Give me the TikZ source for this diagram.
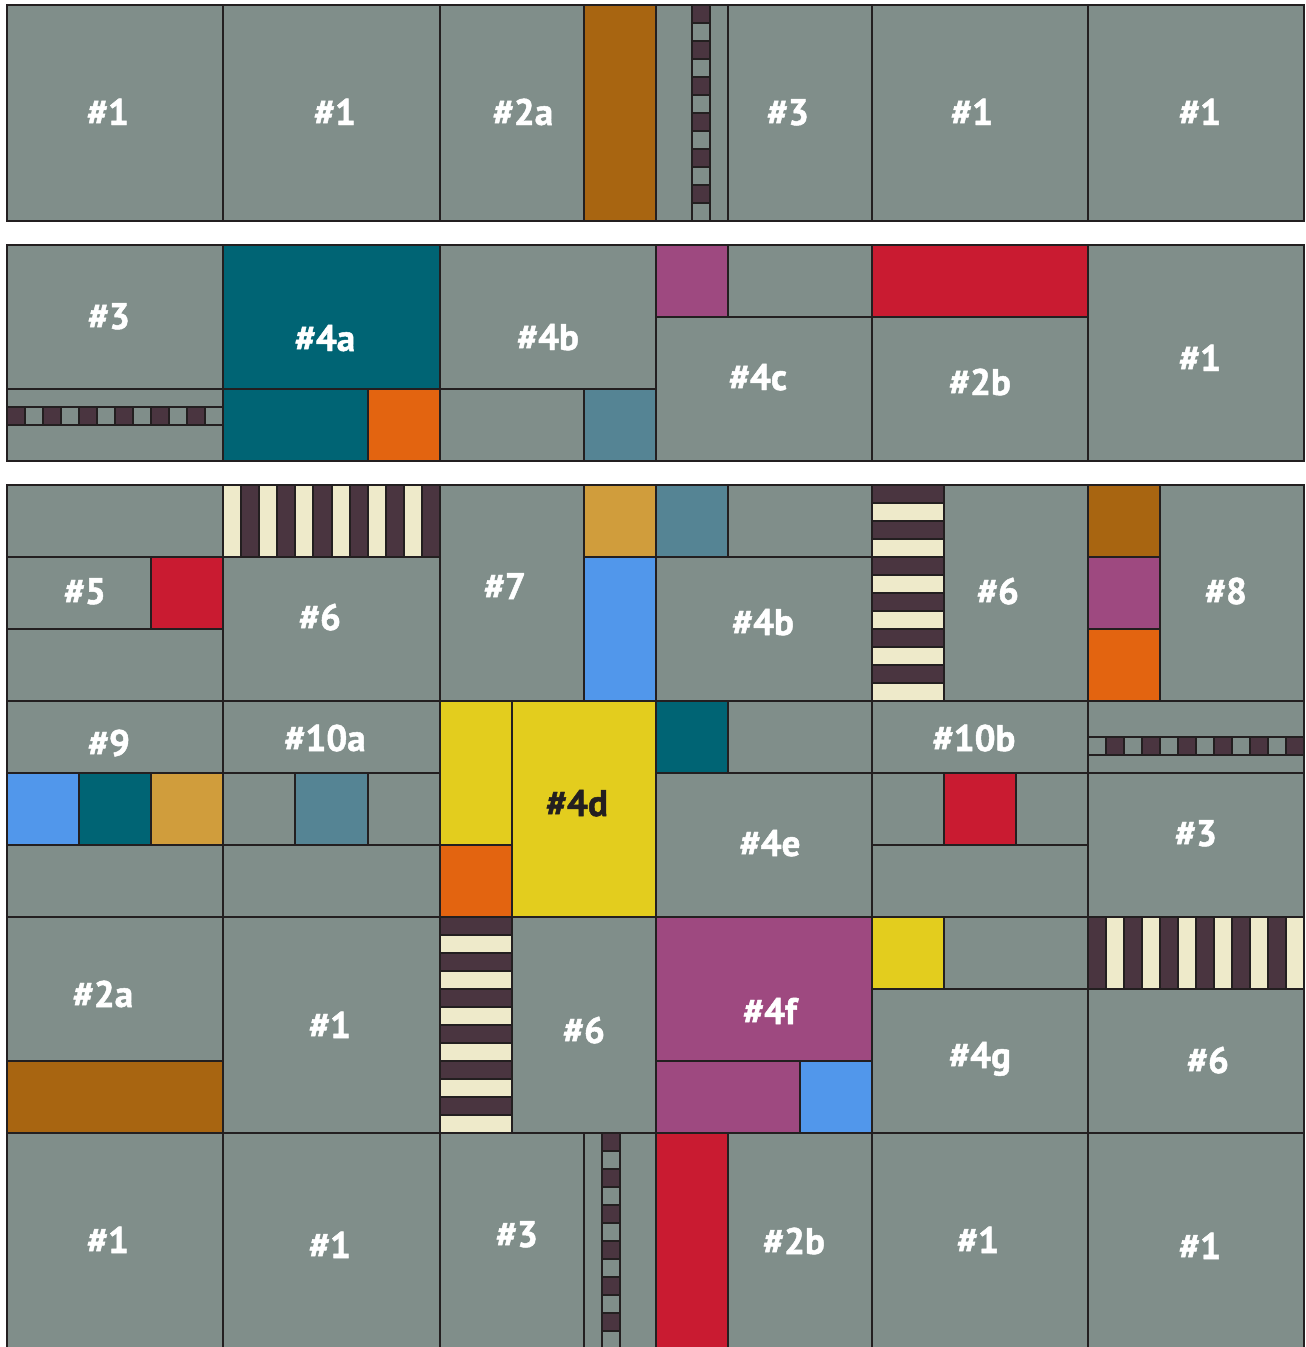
\documentclass[tikz,border=0pt]{standalone}
\usepackage{fontspec}
\setmainfont{PT Sans}
\newfontfamily\lblfont{PT Sans}[BoldFeatures={FakeBold=1.3}]
\definecolor{qgray}{RGB}{128,142,138}
\definecolor{qbrown}{RGB}{168,101,17}
\definecolor{qplum}{RGB}{74,53,64}
\definecolor{qcream}{RGB}{238,234,202}
\definecolor{qteal}{RGB}{0,100,116}
\definecolor{qorange}{RGB}{227,100,16}
\definecolor{qsteel}{RGB}{85,132,148}
\definecolor{qmag}{RGB}{158,73,128}
\definecolor{qred}{RGB}{201,27,49}
\definecolor{qochre}{RGB}{208,157,60}
\definecolor{qblue}{RGB}{81,151,235}
\definecolor{qyellow}{RGB}{227,205,30}
\definecolor{qink}{RGB}{35,31,32}
\tikzset{
  qline/.style={draw=qink, line width=2pt},
  lbl/.style={font=\lblfont\bfseries\fontsize{37}{37}\selectfont, text=white, inner sep=0pt, text height=26pt, text depth=0pt},
  lbldark/.style={lbl, text=qink}
}
\newcommand\R[5]{\filldraw[qline,fill=#5] (#1,#2) rectangle (#3,#4);}
% 12 cells along x
\newcommand\xchk[6]{%
  \foreach \i in {0,2,...,10}{\filldraw[qline,fill=#5] ({#1+(#2-#1)*\i/12},#3) rectangle ({#1+(#2-#1)*(\i+1)/12},#4);}%
  \foreach \i in {1,3,...,11}{\filldraw[qline,fill=#6] ({#1+(#2-#1)*\i/12},#3) rectangle ({#1+(#2-#1)*(\i+1)/12},#4);}}
% 12 cells along y
\newcommand\ychk[6]{%
  \foreach \i in {0,2,...,10}{\filldraw[qline,fill=#5] (#1,{#3+(#4-#3)*\i/12}) rectangle (#2,{#3+(#4-#3)*(\i+1)/12});}%
  \foreach \i in {1,3,...,11}{\filldraw[qline,fill=#6] (#1,{#3+(#4-#3)*\i/12}) rectangle (#2,{#3+(#4-#3)*(\i+1)/12});}}
\begin{document}
\begin{tikzpicture}[x=1pt,y=-1pt]
\useasboundingbox (0,0) rectangle (1306,1347);
\clip (0,0) rectangle (1306,1347);
% ---------- Row 1
\R{7}{5}{223}{221}{qgray}
\R{223}{5}{440}{221}{qgray}
\R{440}{5}{584}{221}{qgray}
\R{584}{5}{656}{221}{qbrown}
\R{656}{5}{692}{221}{qgray}
\ychk{692}{710}{5}{221}{qplum}{qgray}
\R{710}{5}{728}{221}{qgray}
\R{728}{5}{872}{221}{qgray}
\R{872}{5}{1088}{221}{qgray}
\R{1088}{5}{1304}{221}{qgray}
% ---------- Row 2
\R{7}{245}{223}{389}{qgray}
\R{7}{389}{223}{407}{qgray}
\xchk{7}{223}{407}{425}{qplum}{qgray}
\R{7}{425}{223}{461}{qgray}
\R{223}{245}{440}{389}{qteal}
\R{223}{389}{368}{461}{qteal}
\R{368}{389}{440}{461}{qorange}
\R{440}{245}{656}{389}{qgray}
\R{440}{389}{584}{461}{qgray}
\R{584}{389}{656}{461}{qsteel}
\R{656}{245}{728}{317}{qmag}
\R{728}{245}{872}{317}{qgray}
\R{656}{317}{872}{461}{qgray}
\R{872}{245}{1088}{317}{qred}
\R{872}{317}{1088}{461}{qgray}
\R{1088}{245}{1304}{461}{qgray}
% ---------- Row 3
\R{7}{485}{223}{557}{qgray}
\R{7}{557}{151}{629}{qgray}
\R{151}{557}{223}{629}{qred}
\R{7}{629}{223}{701}{qgray}
\xchk{223}{440}{485}{557}{qcream}{qplum}
\R{223}{557}{440}{701}{qgray}
\R{440}{485}{584}{701}{qgray}
\R{584}{485}{656}{557}{qochre}
\R{584}{557}{656}{701}{qblue}
\R{656}{485}{728}{557}{qsteel}
\R{728}{485}{872}{557}{qgray}
\R{656}{557}{872}{701}{qgray}
\ychk{872}{944}{485}{701}{qplum}{qcream}
\R{944}{485}{1088}{701}{qgray}
\R{1088}{485}{1160}{557}{qbrown}
\R{1088}{557}{1160}{629}{qmag}
\R{1088}{629}{1160}{701}{qorange}
\R{1160}{485}{1304}{701}{qgray}
% ---------- Row 4
\R{7}{701}{223}{773}{qgray}
\R{7}{773}{79}{845}{qblue}
\R{79}{773}{151}{845}{qteal}
\R{151}{773}{223}{845}{qochre}
\R{7}{845}{223}{917}{qgray}
\R{223}{701}{440}{773}{qgray}
\R{223}{773}{295}{845}{qgray}
\R{295}{773}{368}{845}{qsteel}
\R{368}{773}{440}{845}{qgray}
\R{223}{845}{440}{917}{qgray}
\R{440}{701}{512}{845}{qyellow}
\R{440}{845}{512}{917}{qorange}
\R{512}{701}{656}{917}{qyellow}
\R{656}{701}{728}{773}{qteal}
\R{728}{701}{872}{773}{qgray}
\R{656}{773}{872}{917}{qgray}
\R{872}{701}{1088}{773}{qgray}
\R{872}{773}{944}{845}{qgray}
\R{944}{773}{1016}{845}{qred}
\R{1016}{773}{1088}{845}{qgray}
\R{872}{845}{1088}{917}{qgray}
\R{1088}{701}{1304}{737}{qgray}
\xchk{1088}{1304}{737}{755}{qgray}{qplum}
\R{1088}{755}{1304}{773}{qgray}
\R{1088}{773}{1304}{917}{qgray}
% ---------- Row 5
\R{7}{917}{223}{1061}{qgray}
\R{7}{1061}{223}{1133}{qbrown}
\R{223}{917}{440}{1133}{qgray}
\ychk{440}{512}{917}{1133}{qplum}{qcream}
\R{512}{917}{656}{1133}{qgray}
\R{656}{917}{872}{1061}{qmag}
\R{656}{1061}{800}{1133}{qmag}
\R{800}{1061}{872}{1133}{qblue}
\R{872}{917}{944}{989}{qyellow}
\R{944}{917}{1088}{989}{qgray}
\R{872}{989}{1088}{1133}{qgray}
\xchk{1088}{1304}{917}{989}{qplum}{qcream}
\R{1088}{989}{1304}{1133}{qgray}
% ---------- Row 6
\R{7}{1133}{223}{1349}{qgray}
\R{223}{1133}{440}{1349}{qgray}
\R{440}{1133}{584}{1349}{qgray}
\R{584}{1133}{602}{1349}{qgray}
\ychk{602}{620}{1133}{1349}{qplum}{qgray}
\R{620}{1133}{656}{1349}{qgray}
\R{656}{1133}{728}{1349}{qred}
\R{728}{1133}{872}{1349}{qgray}
\R{872}{1133}{1088}{1349}{qgray}
\R{1088}{1133}{1304}{1349}{qgray}
% ---------- Labels
\node[lbl] (r1a) at (108,112) {\#1};
\node[lbl] (r1b) at (335,112) {\#1};
\node[lbl] (r1c) at (523,112) {\#2a};
\node[lbl] (r1d) at (788,112) {\#3};
\node[lbl] (r1e) at (972,112) {\#1};
\node[lbl] (r1f) at (1200,112) {\#1};
\node[lbl] (r2a) at (109,316) {\#3};
\node[lbl] (r2b) at (325,338) {\#4a};
\node[lbl] (r2c) at (548,337) {\#4b};
\node[lbl] (r2d) at (758,377) {\#4c};
\node[lbl] (r2e) at (980,382) {\#2b};
\node[lbl] (r2f) at (1200,358) {\#1};
\node[lbl] (r3a) at (85,591) {\#5};
\node[lbl] (r3b) at (320,617) {\#6};
\node[lbl] (r3c) at (505,586) {\#7};
\node[lbl] (r3d) at (763,622) {\#4b};
\node[lbl] (r3e) at (998,591) {\#6};
\node[lbl] (r3f) at (1226,591) {\#8};
\node[lbl] (r4a) at (109,743) {\#9};
\node[lbl] (r4b) at (325,738) {\#10a};
\node[lbldark] (r4c) at (577,803) {\#4d};
\node[lbl] (r4d) at (770,843) {\#4e};
\node[lbl] (r4e) at (974,738) {\#10b};
\node[lbl] (r4f) at (1196,833) {\#3};
\node[lbl] (r5a) at (103,994) {\#2a};
\node[lbl] (r5b) at (330,1025) {\#1};
\node[lbl] (r5c) at (584,1030) {\#6};
\node[lbl] (r5d) at (770,1011) {\#4f};
\node[lbl] (r5e) at (980,1055) {\#4g};
\node[lbl] (r5f) at (1208,1060) {\#6};
\node[lbl] (r6a) at (108,1240) {\#1};
\node[lbl] (r6b) at (330,1245) {\#1};
\node[lbl] (r6c) at (517,1234) {\#3};
\node[lbl] (r6d) at (794,1241) {\#2b};
\node[lbl] (r6e) at (978,1240) {\#1};
\node[lbl] (r6f) at (1200,1246) {\#1};
\end{tikzpicture}
\end{document}
